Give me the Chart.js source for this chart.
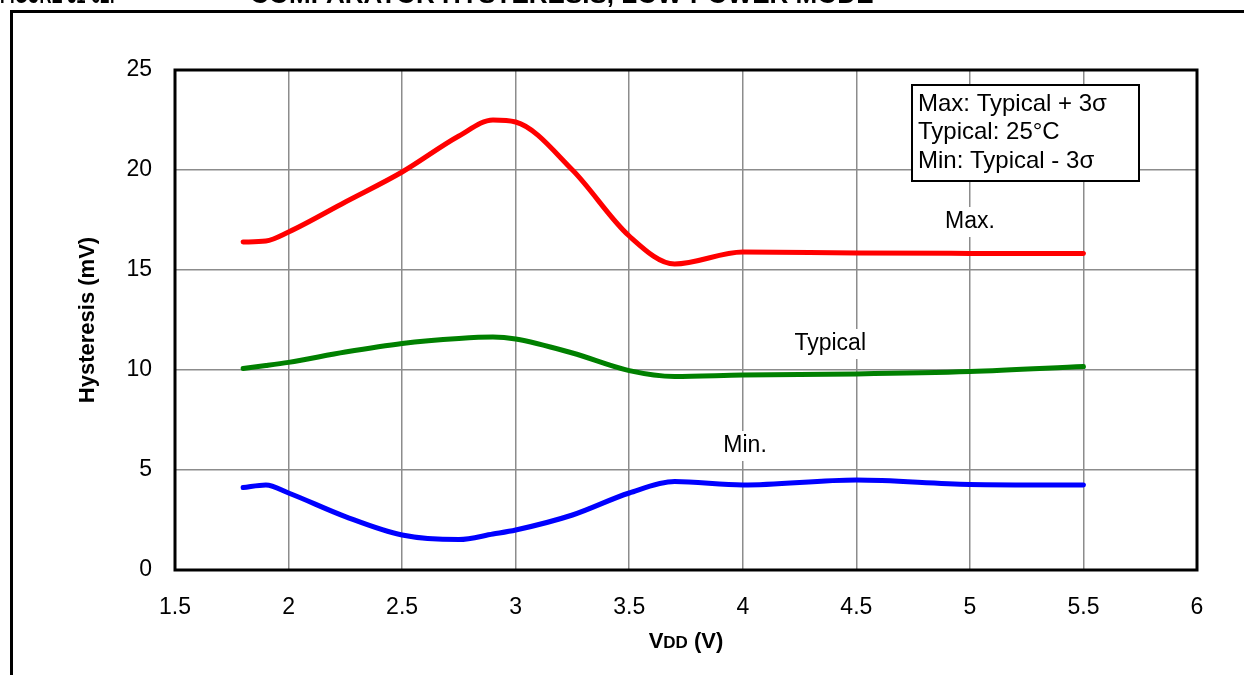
<!DOCTYPE html>
<html>
<head>
<meta charset="utf-8">
<script src="https://cdn.jsdelivr.net/npm/chart.js@4.4.1/dist/chart.umd.min.js"></script>
<style>
  html, body { margin: 0; padding: 0; background: #fff; }
  #wrap { width: 1244px; height: 675px; position: relative; }
</style>
</head>
<body>
<div id="wrap"><canvas id="hystChart" width="1244" height="675"></canvas></div>
<script>
// supply voltage points (V)
const vdd = [1.8, 1.9, 2.0, 2.25, 2.5, 2.75, 2.9, 3.0, 3.25, 3.5, 3.7, 4.0, 4.5, 5.0, 5.5];
// hysteresis (mV)
const maxVals = [16.4, 16.45, 16.9, 18.4, 19.9, 21.7, 22.5, 22.4, 20.0, 16.7, 15.3, 15.9, 15.85, 15.83, 15.82];
const typVals = [10.08, 10.22, 10.38, 10.9, 11.33, 11.58, 11.65, 11.55, 10.85, 9.97, 9.68, 9.75, 9.8, 9.92, 10.17];
const minVals = [4.12, 4.25, 3.85, 2.67, 1.75, 1.52, 1.8, 2.0, 2.75, 3.85, 4.42, 4.25, 4.5, 4.28, 4.25];

const xTicks = [1.5, 2, 2.5, 3, 3.5, 4, 4.5, 5, 5.5, 6];
const yTicks = [0, 5, 10, 15, 20, 25];

const legendLines = ['Max: Typical + 3\u03c3', 'Typical: 25\u00b0C', 'Min: Typical - 3\u03c3'];
const seriesLabels = [
    { text: 'Max.', x: 5.0, y: 17.4 },
    { text: 'Typical', x: 4.385, y: 11.3 },
    { text: 'Min.', x: 4.01, y: 6.2 }
];

const FONT = "'Liberation Sans', Arial, sans-serif";

function toPoints(vals) {
    return vals.map((v, i) => ({ x: vdd[i], y: v }));
}

// frame, title, plot border, annotations
const decorPlugin = {
    id: 'decor',
    beforeDatasetsDraw(chart) {
        const { ctx, chartArea: a } = chart;
        ctx.save();
        ctx.strokeStyle = '#000';
        ctx.lineWidth = 3;
        ctx.strokeRect(a.left, a.top, a.right - a.left, a.bottom - a.top);
        ctx.restore();
    },
    afterDraw(chart) {
        const { ctx, chartArea: a, scales } = chart;
        ctx.save();

        // outer figure frame (runs off right and bottom)
        ctx.strokeStyle = '#000';
        ctx.lineWidth = 3;
        ctx.beginPath();
        ctx.moveTo(11.5, 700);
        ctx.lineTo(11.5, 11.5);
        ctx.lineTo(1260, 11.5);
        ctx.stroke();

        // figure caption, clipped at the top of the page
        ctx.fillStyle = '#000';
        ctx.font = 'bold 26px ' + FONT;
        ctx.textBaseline = 'alphabetic';
        ctx.textAlign = 'left';
        ctx.fillText('FIGURE 31-62:', 0, 3, 115);
        ctx.fillText('COMPARATOR HYSTERESIS, LOW-POWER MODE', 250, 3, 640);

        // series labels on white patches
        ctx.font = '23px ' + FONT;
        ctx.textAlign = 'center';
        ctx.textBaseline = 'middle';
        seriesLabels.forEach(l => {
            const px = scales.x.getPixelForValue(l.x);
            const py = scales.y.getPixelForValue(l.y);
            const w = ctx.measureText(l.text).width;
            ctx.fillStyle = '#fff';
            ctx.fillRect(px - w / 2 - 4, py - 15, w + 8, 30);
            ctx.fillStyle = '#000';
            ctx.fillText(l.text, px, py);
        });

        // note box
        const bx = 912, by = 85, bw = 227, bh = 96;
        ctx.fillStyle = '#fff';
        ctx.fillRect(bx, by, bw, bh);
        ctx.strokeStyle = '#000';
        ctx.lineWidth = 2;
        ctx.strokeRect(bx, by, bw, bh);
        ctx.fillStyle = '#000';
        ctx.font = '24px ' + FONT;
        ctx.textAlign = 'left';
        ctx.textBaseline = 'middle';
        legendLines.forEach((t, i) => ctx.fillText(t, bx + 6, by + 19 + i * 28.5));

        // x axis title: V with small-caps DD
        const cx = (a.left + a.right) / 2;
        const ty = 648;
        ctx.textBaseline = 'alphabetic';
        const big = 'bold 22px ' + FONT, small = 'bold 17px ' + FONT;
        ctx.font = big; const wV = ctx.measureText('V').width;
        ctx.font = small; const wDD = ctx.measureText('DD').width;
        ctx.font = big; const wRest = ctx.measureText(' (V)').width;
        let x0 = cx - (wV + wDD + wRest) / 2;
        ctx.font = big; ctx.fillText('V', x0, ty); x0 += wV;
        ctx.font = small; ctx.fillText('DD', x0, ty); x0 += wDD;
        ctx.font = big; ctx.fillText(' (V)', x0, ty);

        ctx.restore();
    }
};

const lineStyle = (label, data, color) => ({
    label,
    data: toPoints(data),
    borderColor: color,
    backgroundColor: color,
    borderWidth: 5,
    pointRadius: 0,
    cubicInterpolationMode: 'monotone',
    borderCapStyle: 'round',
    borderJoinStyle: 'round'
});

new Chart(document.getElementById('hystChart'), {
    type: 'line',
    data: {
        datasets: [
            lineStyle('Max.', maxVals, '#ff0000'),
            lineStyle('Typical', typVals, '#008000'),
            lineStyle('Min.', minVals, '#0000ff')
        ]
    },
    options: {
        responsive: false,
        animation: false,
        devicePixelRatio: 1,
        layout: { padding: { left: 0, top: 70, right: 47, bottom: 0 } },
        plugins: {
            legend: { display: false },
            tooltip: { enabled: false }
        },
        scales: {
            x: {
                type: 'linear',
                min: 1.5,
                max: 6,
                afterBuildTicks: s => { s.ticks = xTicks.map(v => ({ value: v })); },
                afterFit: s => { s.height = 105; },
                ticks: {
                    color: '#000',
                    font: { size: 23, family: FONT },
                    padding: 24,
                    maxRotation: 0,
                    callback: v => String(v)
                },
                grid: { color: '#8c8c8c', lineWidth: 1.5, drawTicks: false },
                border: { display: false }
            },
            y: {
                min: 0,
                max: 25,
                afterBuildTicks: s => { s.ticks = yTicks.map(v => ({ value: v })); },
                afterFit: s => { s.width = 175; },
                ticks: {
                    color: '#000',
                    font: { size: 23, family: FONT },
                    padding: 23,
                    callback: v => String(v)
                },
                grid: { color: '#8c8c8c', lineWidth: 1.5, drawTicks: false },
                border: { display: false },
                title: {
                    display: true,
                    text: 'Hysteresis (mV)',
                    color: '#000',
                    font: { size: 22, weight: 'bold', family: FONT },
                    padding: { top: 75, bottom: 0 }
                }
            }
        }
    },
    plugins: [decorPlugin]
});
</script>
</body>
</html>
